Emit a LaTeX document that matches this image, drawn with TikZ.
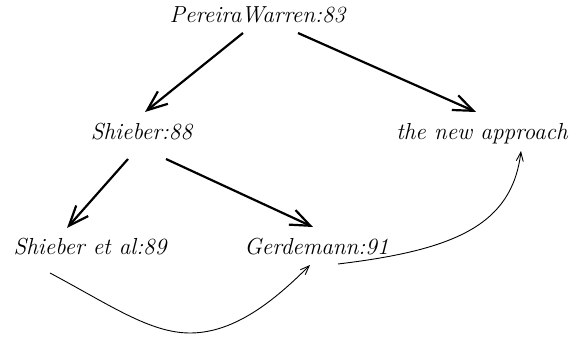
\documentclass[tikz,border=0pt]{standalone}
\usetikzlibrary{arrows.meta}
\begin{document}
\begin{tikzpicture}[x=0.5pt,y=-0.5pt,
  lbl/.style={anchor=base,inner sep=0pt,font=\fontsize{11.6}{13}\selectfont\itshape},
  heavy/.style={line width=1.1pt,-{Straight Barb[length=10pt,width=8pt,line width=1.1pt]}},
  light/.style={line width=0.45pt,-{Straight Barb[length=4.5pt,width=3.5pt]}}]
\useasboundingbox (0,0) rectangle (574,337);
\node[lbl] (pw)  at (257.5,22) {PereiraWarren:83};
\node[lbl] (s88) at (141.5,140) {Shieber:88};
\node[lbl] (new) at (482,140) {the new approach};
\node[lbl] (sal) at (90,254) {Shieber et al:89};
\node[lbl] (ger) at (316.5,254) {Gerdemann:91};
\coordinate (low) at (190,333);
\draw[heavy] ([shift={(-14.5,11)}]pw.base) -- ([shift={(3.5,-28)}]s88.base);
\draw[heavy] ([shift={(40.5,11)}]pw.base) -- ([shift={(-6,-28)}]new.base);
\draw[heavy] ([shift={(-13.5,19)}]s88.base) -- ([shift={(-23,-26)}]sal.base);
\draw[heavy] ([shift={(24.5,19)}]s88.base) -- ([shift={(-3.5,-27)}]ger.base);
\draw[light] ([shift={(-40,19)}]sal.base) .. controls (110,305) and (150,333) .. (low)
  .. controls (235,333) and (275,300) .. ([shift={(-6.5,11)}]ger.base);
\draw[light] ([shift={(21.5,10)}]ger.base) .. controls (455,250) and (512,225) .. ([shift={(39,11)}]new.base);
\end{tikzpicture}
\end{document}
